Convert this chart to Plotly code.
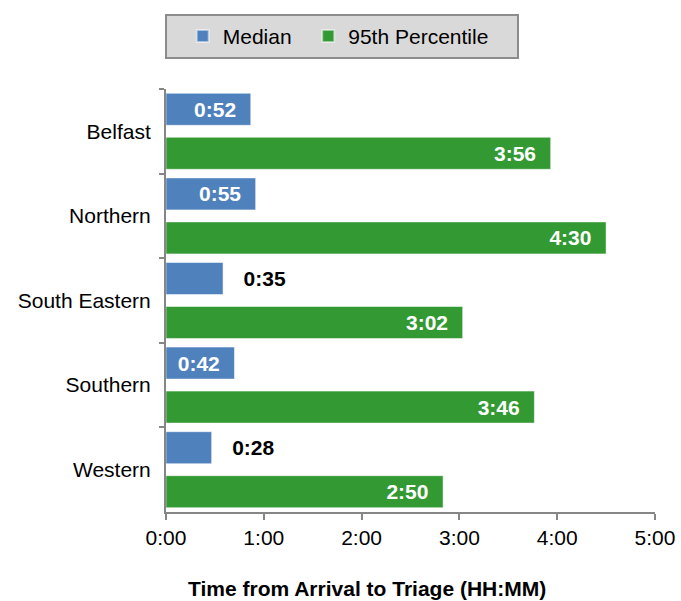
import plotly.graph_objects as go

regions = ["Belfast", "Northern", "South Eastern", "Southern", "Western"]
median_min = [52, 55, 35, 42, 28]
p95_min = [236, 270, 182, 226, 170]
median_pos = ["inside", "inside", "outside", "inside", "outside"]
p95_pos = ["inside", "inside", "inside", "inside", "inside"]
xtick_vals = [0, 60, 120, 180, 240, 300]
xtick_text = ["0:00", "1:00", "2:00", "3:00", "4:00", "5:00"]

BLUE = "#4F81BD"
GREEN = "#339933"
AXIS = "#868686"
FONT = "Liberation Sans, Arial, sans-serif"
NB = "\u00a0"


def hhmm(m):
    return f"{m // 60}:{m % 60:02d}"


def labels(vals, pos):
    out = []
    for v, p in zip(vals, pos):
        if p == "inside":
            out.append(hhmm(v) + NB * 2)
        else:
            out.append(NB * 3 + hhmm(v))
    return out


LBL_IN = dict(color="white", size=21, family=FONT, weight="bold")
LBL_OUT = dict(color="black", size=21, family=FONT, weight="bold")

fig = go.Figure()
fig.add_trace(go.Bar(
    name="Median" + NB * 2, y=regions, x=median_min, orientation="h",
    marker=dict(color=BLUE, line=dict(color="rgba(255,255,255,0.5)", width=1)),
    width=0.378, offset=-0.449,
    text=labels(median_min, median_pos), textposition=median_pos,
    insidetextanchor="end", cliponaxis=False,
    insidetextfont=LBL_IN, outsidetextfont=LBL_OUT,
    hoverinfo="skip",
))
fig.add_trace(go.Bar(
    name="95th Percentile" + NB * 4, y=regions, x=p95_min, orientation="h",
    marker=dict(color=GREEN, line=dict(color="rgba(255,255,255,0.5)", width=1)),
    width=0.378, offset=0.071,
    text=labels(p95_min, p95_pos), textposition=p95_pos,
    insidetextanchor="end", cliponaxis=False,
    insidetextfont=LBL_IN, outsidetextfont=LBL_OUT,
    hoverinfo="skip",
))

fig.update_layout(
    width=681, height=601,
    margin=dict(l=166, r=26, t=89, b=89),
    barmode="overlay",
    plot_bgcolor="white", paper_bgcolor="white",
    font=dict(family=FONT, size=21, color="black"),
    showlegend=True,
    legend=dict(
        orientation="h", xref="container", yref="container",
        x=0.502, y=0.977, xanchor="center", yanchor="top",
        bgcolor="#D9D9D9", bordercolor="#8C8C8C", borderwidth=2,
        font=dict(size=21, family=FONT, color="black"),
        title=dict(text=NB, side="left", font=dict(size=21, family=FONT)),
        itemsizing="constant", itemwidth=30, traceorder="normal",
    ),
    xaxis=dict(
        range=[0, 300], tickvals=xtick_vals, ticktext=xtick_text,
        showgrid=False, zeroline=False, automargin=False,
        showline=True, linecolor=AXIS, linewidth=2,
        ticks="outside", ticklen=6, tickwidth=2, tickcolor=AXIS,
        tickfont=dict(size=21, family=FONT, color="black"),
        ticklabelstandoff=0,
    ),
    yaxis=dict(
        categoryorder="array", categoryarray=regions, autorange="reversed",
        showgrid=False, zeroline=False, automargin=False,
        showline=True, linecolor=AXIS, linewidth=2,
        ticks="outside", tickson="boundaries", ticklen=5, tickwidth=2, tickcolor=AXIS,
        tickfont=dict(size=21, family=FONT, color="black"),
        ticklabelstandoff=9,
    ),
    yaxis2=dict(
        type="category", overlaying="y", side="left",
        categoryorder="array", categoryarray=regions,
        range=[len(regions) - 0.5, -0.5],
        showgrid=False, zeroline=False, automargin=False, showline=False,
        ticks="inside", tickson="boundaries", ticklen=7, tickwidth=2, tickcolor=AXIS,
        showticklabels=False,
    ),
    annotations=[dict(
        text="<b>Time from Arrival to Triage (HH:MM)</b>",
        xref="paper", yref="paper", x=0.411, y=0, yshift=-76,
        xanchor="center", yanchor="middle", showarrow=False,
        font=dict(size=21, family=FONT, color="black"),
    )],
)

fig.write_html("out.html")
